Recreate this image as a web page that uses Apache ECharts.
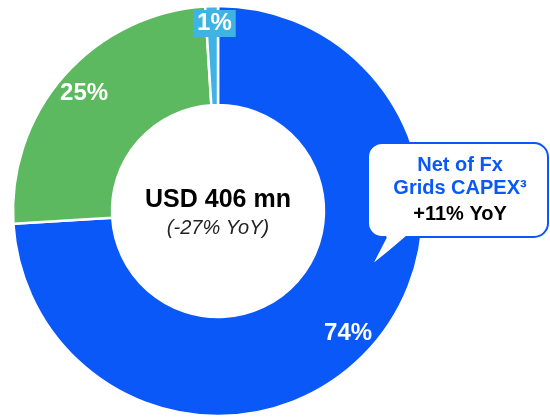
<!DOCTYPE html>
<html>
<head>
<meta charset="utf-8">
<script src="https://cdn.jsdelivr.net/npm/echarts@6/dist/echarts.min.js"></script>
<style>
  html, body { margin: 0; padding: 0; background: #fff; }
  #donut { width: 550px; height: 418px; }
</style>
</head>
<body>
<div id="donut"></div>
<script>
// slices, clockwise from 12 o'clock
var names = ['Grids', 'Other', 'Small'];
var values = [74, 25, 1];
var colors = ['#0A58F7', '#5CB95F', '#3FB3E3'];
var centerTitle = 'USD 406 mn';
var centerSub = '(-27% YoY)';
var calloutLines = ['Net of Fx', 'Grids CAPEX³', '+11% YoY'];

var font = "'Liberation Sans', Arial, sans-serif";
var blue = colors[0];
var chart = echarts.init(document.getElementById('donut'));

var ringData = values.map(function (v, i) {
  return { name: names[i], value: v, itemStyle: { color: colors[i] } };
});

// same values, invisible ring just to place the % labels further out
var labelData = values.map(function (v, i) {
  var d = { name: names[i], value: v };
  if (i === 2) {
    d.label = {
      backgroundColor: colors[2],
      padding: [3, 4, 0, 4],
      offset: [2, -9]
    };
  }
  return d;
});

var option = {
  animation: false,
  series: [
    {
      type: 'pie',
      center: [218, 211],
      radius: [106, 205],
      startAngle: 90,
      silent: true,
      label: { show: false },
      labelLine: { show: false },
      itemStyle: { borderColor: '#fff', borderWidth: 2.5 },
      data: ringData
    },
    {
      type: 'pie',
      center: [218, 211],
      radius: [146, 205],
      startAngle: 90,
      silent: true,
      itemStyle: { color: 'transparent' },
      labelLine: { show: false },
      label: {
        show: true,
        position: 'inside',
        formatter: function (p) { return p.value + '%'; },
        color: '#fff',
        fontFamily: font,
        fontWeight: 'bold',
        fontSize: 24
      },
      data: labelData
    }
  ],
  graphic: [
    {
      type: 'text',
      z: 100,
      style: {
        text: centerTitle,
        x: 218, y: 188,
        textAlign: 'center',
        fill: '#000',
        font: 'bold 25px ' + font
      }
    },
    {
      type: 'text',
      z: 100,
      style: {
        text: centerSub,
        x: 218, y: 218,
        textAlign: 'center',
        fill: '#222',
        font: 'italic 20px ' + font
      }
    },
    // callout box
    {
      type: 'rect',
      z: 100,
      shape: { x: 368, y: 143, width: 180, height: 94, r: 14 },
      style: { fill: '#fff', stroke: blue, lineWidth: 2 }
    },
    {
      type: 'polygon',
      z: 101,
      shape: { points: [[387, 235], [371, 266], [407, 235]] },
      style: { fill: '#fff' }
    },
    {
      type: 'polyline',
      z: 102,
      shape: { points: [[386, 237], [371, 266], [408, 237]] },
      style: { fill: null, stroke: blue, lineWidth: 2 }
    },
    {
      type: 'text',
      z: 103,
      style: {
        text: calloutLines[0] + '\n' + calloutLines[1],
        x: 460, y: 154,
        textAlign: 'center',
        fill: blue,
        lineHeight: 23,
        font: 'bold 20px ' + font
      }
    },
    {
      type: 'text',
      z: 103,
      style: {
        text: calloutLines[2],
        x: 460, y: 204,
        textAlign: 'center',
        fill: '#000',
        font: 'bold 20px ' + font
      }
    }
  ]
};

chart.setOption(option);
</script>
</body>
</html>
